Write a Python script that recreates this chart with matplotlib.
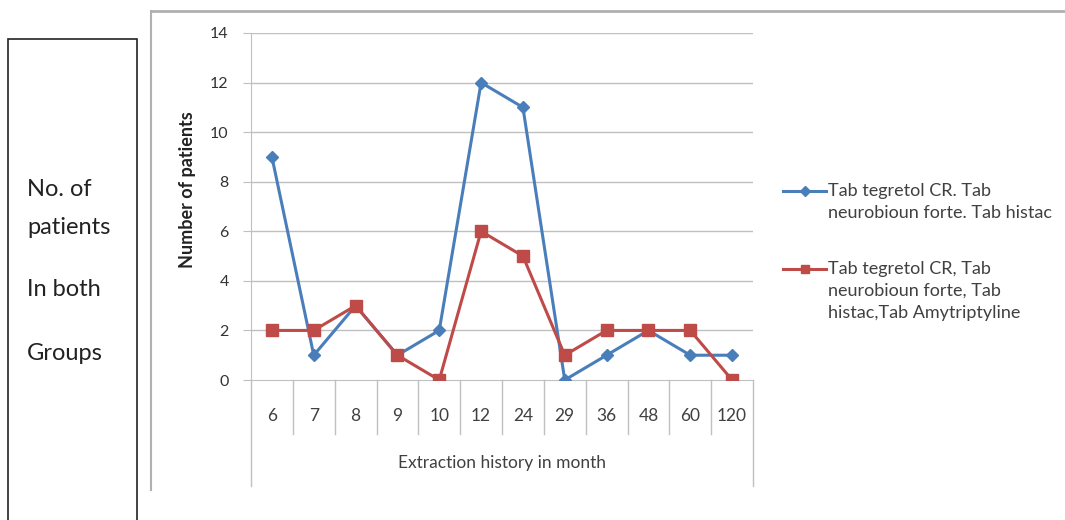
import matplotlib.pyplot as plt
from matplotlib.patches import Rectangle
from matplotlib.lines import Line2D

months = ["6", "7", "8", "9", "10", "12", "24", "29", "36", "48", "60", "120"]
group1 = [9, 1, 3, 1, 2, 12, 11, 0, 1, 2, 1, 1]
group2 = [2, 2, 3, 1, 0, 6, 5, 1, 2, 2, 2, 0]
label1 = "Tab tegretol CR. Tab\nneurobioun forte. Tab histac"
label2 = "Tab tegretol CR, Tab\nneurobioun forte, Tab\nhistac,Tab Amytriptyline"
y_ticks = [0, 2, 4, 6, 8, 10, 12, 14]

plt.rcParams['font.family'] = ['Lato', 'DejaVu Sans']
W, H = 1065, 520
fig = plt.figure(figsize=(W / 100, H / 100), dpi=100)

def fx(px):
    return px / W

def fy(py):
    return 1 - py / H

# left text box
fig.patches.append(Rectangle((fx(8), fy(530)), fx(129), fy(39) - fy(530),
                             transform=fig.transFigure, fill=False,
                             edgecolor='#222222', linewidth=1.2))
for txt, yy in [("No. of", 189), ("patients", 227), ("In both", 289), ("Groups", 353)]:
    fig.text(fx(27), fy(yy), txt, fontsize=17, color='#222222', va='center', ha='left')

# chart frame
frame = '#b0b0b0'
fig.add_artist(Line2D([fx(151), fx(151)], [fy(11), fy(490)], color=frame, lw=1.5))
fig.add_artist(Line2D([fx(151), fx(1065)], [fy(11), fy(11)], color=frame, lw=2))

ax = fig.add_axes([fx(251), fy(380), fx(753) - fx(251), fy(33) - fy(380)])
x = list(range(len(months)))

grid = '#c0c0c0'
l1, = ax.plot(x, group1, color='#4a7ebb', lw=2.2, marker='D', markersize=6.5, zorder=3)
l2, = ax.plot(x, group2, color='#be4b48', lw=2.2, marker='s', markersize=8.5, zorder=3)

ax.set_xlim(-0.5, len(months) - 0.5)
ax.set_ylim(0, 14)
ax.set_yticks(y_ticks)
for v in y_ticks[1:]:
    ax.axhline(v, color=grid, lw=1, zorder=1)
ax.tick_params(axis='y', length=6, color=grid, labelsize=11.5, labelcolor='#333333', pad=10)
ax.set_xticks(x)
ax.set_xticklabels(months)
ax.tick_params(axis='x', length=0, labelsize=12.5, labelcolor='#404040', pad=20)
for s in ['top', 'right']:
    ax.spines[s].set_visible(False)
ax.spines['left'].set_color(grid)
ax.spines['bottom'].set_color(grid)

# category table lines below the axis
tr = ax.get_xaxis_transform()
for b in range(1, len(months)):
    ax.plot([b - 0.5, b - 0.5], [0, -54 / 347], color=grid, lw=1, transform=tr, clip_on=False)
for b in [-0.5, len(months) - 0.5]:
    ax.plot([b, b], [0, -106 / 347], color=grid, lw=1, transform=tr, clip_on=False)

ax.text(5.5, -83 / 347, "Extraction history in month", transform=tr, ha='center',
        va='center', fontsize=12.5, color='#404040')
fig.text(fx(187), fy(190), "Number of patients", rotation=90, fontsize=13,
         fontweight='bold', color='#222222', ha='center', va='center')

# legend, handle aligned with first text line
for line, lab, yy in [(l1, label1, 191), (l2, label2, 269)]:
    fig.add_artist(Line2D([fx(783), fx(826)], [fy(yy), fy(yy)], color=line.get_color(), lw=2.2))
    fig.add_artist(Line2D([fx(804.5)], [fy(yy)], color=line.get_color(), lw=0,
                          marker=line.get_marker(), markersize=line.get_markersize() * 0.75))
    fig.text(fx(828), fy(yy - 8), lab, fontsize=13, color='#404040', ha='left', va='top',
             linespacing=1.45)

fig.savefig("out.png", dpi=100, facecolor='white')
